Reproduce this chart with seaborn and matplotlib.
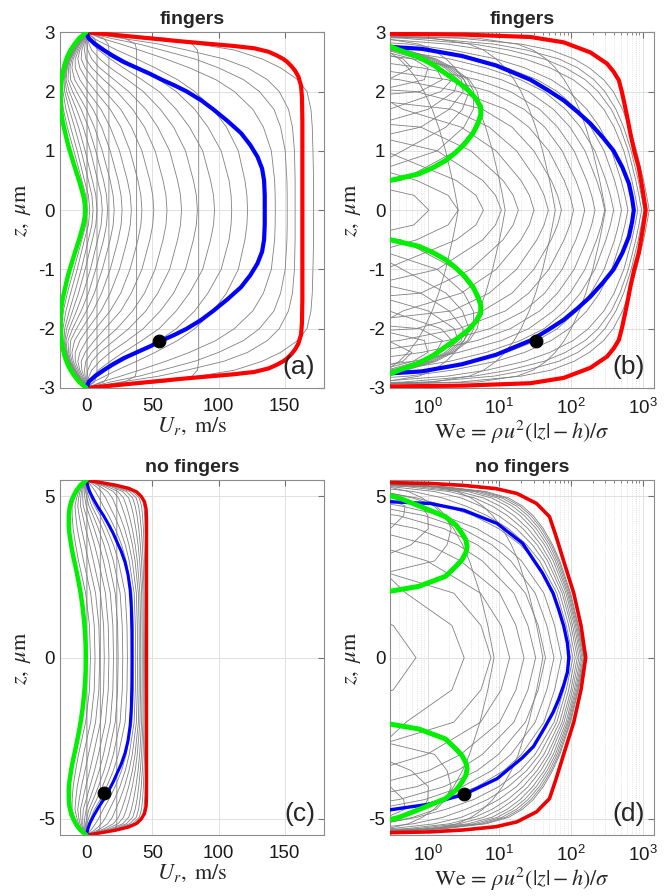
import numpy as np
import pandas as pd
import matplotlib
matplotlib.use("Agg")
import matplotlib.pyplot as plt
import seaborn as sns
from matplotlib.ticker import LogLocator, NullFormatter

# ---------------- data ----------------
# "fingers" case: upper half of each velocity profile U_r(z), z >= 0 (mirrored below)
z_red_fing = [0.0, 0.5, 1.0, 1.5, 1.9, 2.1, 2.25, 2.35, 2.42, 2.5, 2.55, 2.61, 2.67,
              2.73, 2.77, 2.81, 2.85, 2.9, 2.95, 3.0]
red_fing = [163.5, 163.5, 163.5, 163.5, 163.2, 162.5, 160.5, 158, 155.5, 152, 149, 144, 138,
            127, 111, 90, 70, 47, 24, 0]
z_blue_fing = [0.0, 0.25, 0.5, 0.7, 0.9, 1.1, 1.3, 1.5, 1.7, 1.85, 2.0, 2.1, 2.2, 2.3,
               2.4, 2.5, 2.6, 2.7, 2.8, 2.89, 2.95, 3.0]
blue_fing = [135, 135, 134.5, 133, 129.5, 124, 117, 107, 96, 87, 76, 67, 57, 48,
             38, 28, 20, 13, 6.5, 2, 0.7, 0]
z_green_fing = [0.0, 0.1, 0.22, 0.36, 0.5, 0.64, 0.78, 0.92, 1.06, 1.2, 1.34, 1.48, 1.62,
                1.76, 1.9, 2.05, 2.19, 2.33, 2.47, 2.6, 2.7, 2.8, 2.9, 3.0]
green_fing = [-1.0, -1.2, -2.1, -3.8, -5.6, -7.6, -9.6, -11.5, -13.4, -15, -16.4, -17.9, -18.9,
              -19.4, -19.6, -19.4, -18.9, -17.9, -16.4, -14.3, -12, -9, -5.5, 0]

z_fing = [0.0, 0.25, 0.5, 1.0, 1.4, 1.7, 2.0, 2.2, 2.4, 2.55, 2.7, 2.8, 2.9, 3.0]
gray_fing = [
    [0.5, -0.5, -3.5, -9.5, -14.5, -17.5, -18.8, -18.5, -16.5, -14.5, -11, -8.5, -5, 0],
    [2.5, 1.5, -1.5, -7, -12, -15.5, -17.8, -18, -16, -14, -10.5, -8, -4.8, 0],
    [5, 4.1, 1.5, -4, -9, -13, -16.5, -17, -15.5, -13.5, -10, -7.5, -4.5, 0],
    [8, 7.1, 4.5, -1, -6, -10.5, -15, -16.3, -15, -13, -9.5, -7, -4, 0],
    [12, 11.1, 8.5, 3, -2.5, -7.5, -13, -15.5, -14.5, -12.5, -9, -6.5, -3.5, 0],
    [16, 15.2, 13, 7, 1.5, -4, -10.5, -14, -13.5, -12, -8.5, -6, -3, 0],
    [21, 20.2, 18, 12, 6, 0, -7.5, -12, -12.5, -11, -8, -5.5, -2.5, 0],
    [27, 26.2, 24, 18, 11.5, 5, -3.5, -9, -11, -10, -7, -5, -2, 0],
    [34, 33.2, 31, 25, 18, 11, 1, -5, -8.5, -8.5, -6, -4, -1.5, 0],
    [42, 41.2, 39, 33, 26, 18, 7, 0, -5, -6.5, -5, -3, -1, 0],
    [51, 50.2, 48, 42, 34, 26, 14, 6, -1, -4, -3.5, -2, -0.5, 0],
    [61, 60.2, 58, 52, 44, 35, 23, 13, 4, -0.5, -1.5, -1, 0, 0],
    [72, 71.2, 69, 63, 54, 45, 32, 21, 10, 4, 1, 0.5, 0.2, 0],
    [84, 83.2, 81, 75, 66, 56, 43, 31, 18, 10, 4, 2, 0.5, 0],
    [97, 96.2, 94, 88, 78, 68, 55, 42, 28, 18, 9, 5, 1.5, 0],
    [110, 109.5, 108, 102, 92, 82, 68, 55, 39, 27, 15, 9, 3, 0],
    [122, 121.5, 120, 115, 106, 96, 82, 69, 52, 38, 23, 14, 5, 0],
    [143, 142.9, 142.5, 140, 134, 126, 112, 98, 78, 60, 40, 26, 11, 0],
    [152, 152, 151.8, 150.5, 147, 142, 131, 119, 100, 82, 57, 40, 18, 0],
    [158, 158, 158, 157.5, 156, 153, 146, 137, 122, 104, 76, 55, 26, 0],
    [172, 172, 172, 171.5, 171, 170, 167, 160, 147, 133, 112, 85, 45, 0],
    # plug-like profiles with rounded corners
    [0.5, 0.5, 0.5, 0.5, 0.5, 0.5, 0.5, 0.5, 0.5, 0.5, 0.5, 0.5, 0.4, 0],
    [8, 8, 8, 8, 8, 8, 8, 8, 8, 8, 8, 7.8, 6, 0],
    [17, 17, 17, 17, 17, 17, 17, 17, 17, 17, 17, 16.5, 13, 0],
    [38, 38, 38, 38, 38, 38, 38, 38, 38, 38, 38, 37, 29, 0],
    [85, 85, 85, 85, 85, 85, 85, 85, 85, 85, 84, 80, 60, 0],
]

# "no fingers" case
z_red_nofing = [0.0, 3.0, 4.0, 4.3, 4.6, 4.83, 5.0, 5.14, 5.25, 5.35, 5.4, 5.45, 5.5]
red_nofing = [45.5, 45.5, 45.5, 45.5, 45.2, 44, 41.5, 38, 32, 22, 15, 8, 0]
z_blue_nofing = [0.0, 0.8, 1.54, 2.1, 2.57, 2.95, 3.3, 3.6, 3.85, 4.11, 4.4, 4.63, 4.9,
                 5.14, 5.3, 5.5]
blue_nofing = [34.5, 34.4, 34, 33.1, 31.5, 29.3, 26.3, 23, 20.3, 17, 13, 9.3, 5.5,
               2.5, 1.2, 0]
z_green_nofing = [0.0, 0.4, 0.8, 1.2, 1.6, 2.0, 2.3, 2.57, 2.85, 3.1, 3.35, 3.6, 3.85,
                  4.11, 4.4, 4.63, 4.85, 5.03, 5.2, 5.35, 5.42, 5.5]
green_nofing = [-0.5, -0.6, -1.1, -1.9, -3, -4.4, -5.7, -7, -8.4, -9.8, -11, -12, -12.9,
                -13.4, -13.3, -12.8, -11.5, -9.6, -7.3, -4.5, -2.5, 0]

z_nofing = [0.0, 1.0, 2.0, 3.0, 3.5, 4.0, 4.4, 4.7, 4.95, 5.15, 5.3, 5.42, 5.5]
gray_nofing = [
    [3.0, 2.3, -0.6, -6.0, -8.2, -10.1, -10.8, -10.9, -9.0, -7.0, -4.8, -2.7, 0],
    [6.5, 5.9, 3.2, -2.2, -4.6, -7.0, -8.1, -8.7, -7.4, -5.9, -4.2, -2.3, 0],
    [10.0, 9.4, 6.9, 1.5, -1.1, -3.8, -5.5, -6.6, -5.9, -4.9, -3.5, -2.0, 0],
    [13.5, 13.0, 10.6, 5.3, 2.5, -0.6, -2.8, -4.5, -4.3, -3.8, -2.8, -1.6, 0],
    [17.0, 16.5, 14.4, 9.1, 6.1, 2.6, -0.2, -2.4, -2.8, -2.8, -2.2, -1.3, 0],
    [20.5, 20.0, 18.1, 12.9, 9.7, 5.8, 2.4, -0.2, -1.2, -1.7, -1.5, -0.9, 0],
    [24.0, 23.6, 21.8, 16.7, 13.3, 9.0, 5.1, 1.9, 0.4, -0.7, -0.8, -0.6, 0],
    [27.5, 27.1, 25.5, 20.4, 16.8, 12.1, 7.7, 4.0, 1.9, 0.4, -0.1, -0.2, 0],
    [31.0, 30.7, 29.3, 24.2, 20.4, 15.3, 10.4, 6.2, 3.5, 1.5, 0.5, 0.2, 0],
    [35.8, 35.6, 34.5, 30.1, 26.6, 21.7, 16.9, 12.7, 9.6, 6.8, 4.2, 1.9, 0],
    [37.3, 37.0, 36.1, 32.4, 29.4, 25.3, 21.1, 17.5, 14.6, 11.4, 7.4, 3.4, 0],
    [38.7, 38.5, 37.8, 34.7, 32.2, 28.8, 25.3, 22.2, 19.6, 16.0, 10.6, 4.9, 0],
    [40.0, 39.9, 39.3, 36.8, 34.8, 32.0, 29.2, 26.7, 24.3, 20.3, 13.6, 6.3, 0],
    [41.1, 41.0, 40.5, 38.5, 36.9, 34.7, 32.4, 30.3, 28.1, 23.8, 16.1, 7.4, 0],
    [42.2, 42.1, 41.8, 40.3, 39.1, 37.4, 35.7, 34.0, 32.0, 27.4, 18.6, 8.6, 0],
    [43.1, 43.0, 42.8, 41.7, 40.8, 39.6, 38.3, 36.9, 35.0, 30.2, 20.5, 9.5, 0],
    [43.9, 43.8, 43.6, 42.9, 42.3, 41.5, 40.5, 39.5, 37.7, 32.7, 22.3, 10.3, 0],
    [44.5, 44.5, 44.4, 44.0, 43.6, 43.1, 42.5, 41.7, 40.0, 34.8, 23.8, 11.0, 0],
    [45.1, 45.0, 45.0, 44.8, 44.6, 44.4, 44.1, 43.5, 42.0, 36.6, 25.0, 11.5, 0],
    [0.4, 0.4, 0.4, 0.4, 0.4, 0.4, 0.4, 0.4, 0.4, 0.4, 0.38, 0.28, 0],
    [10.5, 10.5, 10.5, 10.5, 10.5, 10.5, 10.5, 10.5, 10.5, 10.5, 10, 7.4, 0],
    [23, 23, 23, 23, 23, 23, 23, 23, 23, 23, 21.9, 16.1, 0],
]

# Weber-number curves of the highlighted profiles (upper half, wall -> centre)
red_we_fing_z = [2.975, 2.96, 2.92, 2.83, 2.66, 2.47, 2.33, 2.19, 2.0, 1.85, 1.6, 1.29,
                 1.0, 0.72, 0.36, 0.0]
red_we_fing = [0.25, 3.2, 27, 79, 186, 318, 395, 464, 510, 543, 600, 673,
               760, 879, 990, 1100]
blue_we_fing_z = [2.76, 2.72, 2.6, 2.44, 2.2, 2.02, 1.85, 1.65, 1.46, 1.22, 1.0, 0.72,
                  0.45, 0.2, 0.0]
blue_we_fing = [0.25, 0.83, 3.0, 9.0, 27, 48, 79, 125, 186, 280, 392, 520,
                640, 710, 750]
green_we_fing_z = [2.80, 2.70, 2.58, 2.45, 2.30, 2.15, 2.02, 1.88, 1.74, 1.60,
                   1.46, 1.30, 1.12, 0.98, 0.84, 0.72, 0.61, 0.50, 0.45]
green_we_fing = [0.25, 0.40, 0.75, 1.2, 1.8, 2.7, 3.7, 4.7, 5.5, 5.5,
                 5.0, 4.3, 3.3, 2.5, 1.8, 1.2, 0.75, 0.30, 0.20]

red_we_nofing_z = [5.43, 5.40, 5.34, 5.24, 5.09, 4.78, 4.37, 3.75, 3.03, 2.0, 0.98, 0.0]
red_we_nofing = [0.25, 1.1, 3.2, 9.0, 17.6, 33, 50, 62, 78, 109, 138, 160]
blue_we_nofing_z = [4.84, 4.78, 4.57, 4.16, 3.55, 3.03, 2.62, 2.0, 1.5, 0.98, 0.45, 0.0,
                    -0.45, -0.85, -1.3, -1.7, -2.2, -2.75, -3.1, -3.75, -4.24, -4.55, -4.74]
blue_we_nofing = [0.25, 1.09, 3.2, 9.3, 21, 30, 40, 56, 67, 79, 89, 93,
                  89, 79, 67, 56, 42, 30, 21, 9.3, 3.25, 1.0, 0.25]
green_we_nofing_z = [5.06, 4.95, 4.71, 4.37, 4.10, 3.86, 3.65, 3.44, 3.25, 3.03,
                     2.80, 2.52, 2.21, 2.06, 2.0]
green_we_nofing = [0.25, 0.40, 0.75, 1.77, 2.5, 3.0, 3.4, 3.55, 3.4, 3.0,
                   2.4, 1.77, 0.75, 0.30, 0.20]

# black markers (U_r or We, z)
dot_u_fing, dot_z_fing = 55, -2.2
dot_we_fing = 32
dot_u_nofing, dot_z_nofing = 13.5, -4.2
dot_we_nofing, dot_zwe_nofing = 3.25, -4.24

rho = 1000.0     # kg/m^3
sigma = 0.072    # N/m
h_fing = 3.0     # um
h_nofing = 5.5   # um


def mirror(zh, uh):
    zh = np.asarray(zh, float)
    uh = np.asarray(uh, float)
    z = np.concatenate([-zh[::-1], zh[1:]])
    u = np.concatenate([uh[::-1], uh[1:]])
    return z, u


def mirror_we(zw, we):
    zw = np.asarray(zw, float)
    we = np.asarray(we, float)
    return np.concatenate([zw, -zw[::-1][1:]]), np.concatenate([we, we[::-1][1:]])


def weber(u, z, h):
    we = rho * u ** 2 * np.abs(np.abs(z) - h) * 1e-6 / sigma
    return np.clip(we, 1e-3, None)


def gray_frame(zh, curves, h):
    parts = []
    for k, uh in enumerate(curves):
        z, u = mirror(zh, uh)
        parts.append(pd.DataFrame({"curve": k, "z": z, "u": u, "We": weber(u, z, h)}))
    return pd.concat(parts, ignore_index=True)


# ---------------- style ----------------
sns.set_style("white")
plt.rcParams["font.family"] = ["Liberation Sans", "DejaVu Sans"]
plt.rcParams["axes.unicode_minus"] = False

GRAY = "0.5"
RED, BLUE, GREEN = "#ff0000", "#0000ff", "#00f000"
fig = plt.figure(figsize=(6.67, 8.96), dpi=100)
ax_a = fig.add_axes([0.090, 0.567, 0.396, 0.397])
ax_b = fig.add_axes([0.585, 0.567, 0.396, 0.397])
ax_c = fig.add_axes([0.090, 0.068, 0.396, 0.396])
ax_d = fig.add_axes([0.585, 0.068, 0.396, 0.396])
ax_b.set_xscale("log")
ax_d.set_xscale("log")


def line(ax, x, y, color, lw, z=3):
    sns.lineplot(x=np.asarray(x, float), y=np.asarray(y, float), sort=False, estimator=None,
                 color=color, lw=lw, ax=ax, zorder=z)


def style(ax, title, letter, yticks):
    ax.set_title(title, fontsize=14, fontweight="bold", pad=6)
    ax.grid(True, which="major", color="0.88", lw=0.7)
    ax.set_axisbelow(True)
    ax.tick_params(which="both", direction="in", top=True, right=True, labelsize=13.5,
                   color="0.45", labelcolor="0.1")
    ax.tick_params(which="major", length=4)
    ax.tick_params(axis="x", which="major", pad=7)
    ax.tick_params(which="minor", length=2)
    for s in ax.spines.values():
        s.set_color("0.55")
        s.set_linewidth(0.8)
    ax.set_yticks(yticks)
    ax.text(0.965, 0.025, letter, transform=ax.transAxes, ha="right", va="bottom", fontsize=19)
    ax.set_ylabel(r"$z,\ \mu\mathrm{m}$", fontsize=16, math_fontfamily="stix", labelpad=4)


def style_u(ax):
    ax.set_xlim(-20, 180)
    ax.set_xticks([0, 50, 100, 150])
    ax.set_xlabel(r"$U_r,\ \mathrm{m/s}$", fontsize=16, math_fontfamily="stix", labelpad=1)


def style_we(ax):
    ax.set_xlim(0.3, 1450)
    ax.set_xticks([1, 10, 100, 1000])
    ax.xaxis.set_minor_locator(LogLocator(base=10, subs=np.arange(2, 10), numticks=20))
    ax.xaxis.set_minor_formatter(NullFormatter())
    ax.grid(True, which="minor", axis="x", color="0.85", ls=":", lw=0.6)
    ax.set_xlabel(r"$\mathrm{We}\,=\,\rho u^2(|z|-h)/\sigma$", fontsize=16,
                  math_fontfamily="stix", labelpad=1)


# ---------------- panel (a) ----------------
df_a = gray_frame(z_fing, gray_fing, h_fing)
sns.lineplot(data=df_a, x="u", y="z", units="curve", estimator=None, sort=False,
             color=GRAY, lw=0.6, ax=ax_a, legend=False)
line(ax_a, *mirror(z_red_fing, red_fing)[::-1], color=RED, lw=3)
line(ax_a, *mirror(z_blue_fing, blue_fing)[::-1], color=BLUE, lw=3)
line(ax_a, *mirror(z_green_fing, green_fing)[::-1], color=GREEN, lw=3.2)
sns.scatterplot(x=[dot_u_fing], y=[dot_z_fing], color="k", s=85, ax=ax_a, zorder=6, edgecolor="k")
ax_a.set_ylim(-3, 3)
style(ax_a, "fingers", "(a)", [-3, -2, -1, 0, 1, 2, 3])
style_u(ax_a)

# ---------------- panel (b) ----------------
sns.lineplot(data=df_a, x="We", y="z", units="curve", estimator=None, sort=False,
             color=GRAY, lw=0.6, ax=ax_b, legend=False)
zr, wr = mirror_we(red_we_fing_z, red_we_fing)
line(ax_b, wr, zr, color=RED, lw=3)
zb, wb = mirror_we(blue_we_fing_z, blue_we_fing)
line(ax_b, wb, zb, color=BLUE, lw=3)
line(ax_b, green_we_fing, green_we_fing_z, color=GREEN, lw=3.6)
line(ax_b, green_we_fing, -np.asarray(green_we_fing_z), color=GREEN, lw=3.6)
sns.scatterplot(x=[dot_we_fing], y=[dot_z_fing], color="k", s=85, ax=ax_b, zorder=6, edgecolor="k")
ax_b.set_ylim(-3, 3)
style(ax_b, "fingers", "(b)", [-3, -2, -1, 0, 1, 2, 3])
style_we(ax_b)

# ---------------- panel (c) ----------------
df_c = gray_frame(z_nofing, gray_nofing, h_nofing)
sns.lineplot(data=df_c, x="u", y="z", units="curve", estimator=None, sort=False,
             color=GRAY, lw=0.6, ax=ax_c, legend=False)
line(ax_c, *mirror(z_red_nofing, red_nofing)[::-1], color="#ee0000", lw=2.4)
line(ax_c, *mirror(z_blue_nofing, blue_nofing)[::-1], color=BLUE, lw=2.2)
line(ax_c, *mirror(z_green_nofing, green_nofing)[::-1], color=GREEN, lw=3.2)
sns.scatterplot(x=[dot_u_nofing], y=[dot_z_nofing], color="k", s=85, ax=ax_c, zorder=6, edgecolor="k")
ax_c.set_ylim(-5.5, 5.5)
style(ax_c, "no fingers", "(c)", [-5, 0, 5])
style_u(ax_c)

# ---------------- panel (d) ----------------
sns.lineplot(data=df_c, x="We", y="z", units="curve", estimator=None, sort=False,
             color=GRAY, lw=0.6, ax=ax_d, legend=False)
zr, wr = mirror_we(red_we_nofing_z, red_we_nofing)
line(ax_d, wr, zr, color="#ee0000", lw=2.6)
line(ax_d, blue_we_nofing, blue_we_nofing_z, color=BLUE, lw=2.4)
line(ax_d, green_we_nofing, green_we_nofing_z, color=GREEN, lw=3.6)
line(ax_d, green_we_nofing, -np.asarray(green_we_nofing_z), color=GREEN, lw=3.6)
sns.scatterplot(x=[dot_we_nofing], y=[dot_zwe_nofing], color="k", s=85, ax=ax_d, zorder=6, edgecolor="k")
ax_d.set_ylim(-5.5, 5.5)
style(ax_d, "no fingers", "(d)", [-5, 0, 5])
style_we(ax_d)

fig.savefig("out.png", dpi=100)
